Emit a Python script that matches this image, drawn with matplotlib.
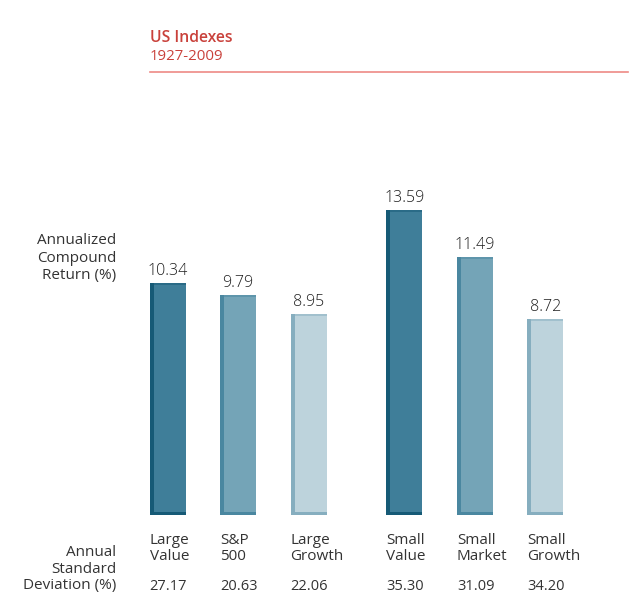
import matplotlib
matplotlib.use('Agg')
import matplotlib.pyplot as plt

# ---- data ----
cat_line1 = ["Large", "S&P", "Large", "Small", "Small", "Small"]
cat_line2 = ["Value", "500", "Growth", "Value", "Market", "Growth"]
returns = [10.34, 9.79, 8.95, 13.59, 11.49, 8.72]
std_devs = ["27.17", "20.63", "22.06", "35.30", "31.09", "34.20"]
title = "US Indexes"
subtitle = "1927-2009"
return_label = ["Annualized", "Compound", "Return (%)"]
std_label = ["Annual", "Standard", "Deviation (%)"]

# ---- style ----
fill_colors = ["#3f7e99", "#74a4b7", "#bdd3dc", "#3f7e99", "#74a4b7", "#bdd3dc"]
edge_colors = ["#165a76", "#4a87a0", "#86aebf", "#165a76", "#4a87a0", "#86aebf"]
positions = [0, 1, 2, 3.36, 4.36, 5.36]
text_color = "#333333"
red = "#c9413b"

plt.rcParams['font.family'] = ['Open Sans', 'DejaVu Sans']

W, H = 640, 613
fig = plt.figure(figsize=(W / 100, H / 100), dpi=100)
fig.patch.set_facecolor('white')

base_px = 515
top_px = 178
ppu_y = 22.43
ppu_x = 70.5
x0_px = 167.5
ax = fig.add_axes([0, (H - base_px) / H, 1, (base_px - top_px) / H])
ax.set_ylim(0, (base_px - top_px) / ppu_y)
ax.set_xlim(-x0_px / ppu_x, (W - x0_px) / ppu_x)
ax.axis('off')

bw = 36 / ppu_x
sw = 4 / ppu_x
bh = 3 / ppu_y
for p, v, fc, ec in zip(positions, returns, fill_colors, edge_colors):
    ax.bar(p, v, width=bw, color=fc, linewidth=0)
    ax.bar(p - bw / 2 + sw / 2, v - bh * 0.5, width=sw, bottom=bh * 0.5, color=ec, linewidth=0)
    ax.bar(p, bh, width=bw, color=ec, linewidth=0)
    ax.bar(p + sw / 2, bh * 0.5, width=bw - sw, bottom=v - bh * 0.5, color=ec, linewidth=0, alpha=0.5)
    ax.annotate(f"{v:.2f}", (p, v), xytext=(0, 3), textcoords='offset points',
                ha='center', va='bottom', fontsize=11.5, fontweight='light', color="#1e1e1e")


def ftext(xp, yp, s, **kw):
    fig.text(xp / W, 1 - yp / H, s, **kw)


# title
ftext(150, 38, title, fontsize=11.3, fontweight='semibold', color=red, va='center', ha='left')
ftext(150, 57, subtitle, fontsize=10.8, color=red, va='center', ha='left')
fig.add_artist(plt.Line2D([150 / W, 628 / W], [1 - 72 / H, 1 - 72 / H], color="#ee8a85", lw=1.2))

# left labels
for i, s in enumerate(return_label):
    ftext(116, 241 + i * 17, s, fontsize=11, color=text_color, ha='right', va='center')
for i, s in enumerate(std_label):
    ftext(116, 553 + i * 16.5, s, fontsize=11, color=text_color, ha='right', va='center')

# category labels and std values
for p, a, b, sd in zip(positions, cat_line1, cat_line2, std_devs):
    xl = x0_px + p * ppu_x - 18
    ftext(xl, 540, a, fontsize=11, color=text_color, ha='left', va='center')
    ftext(xl, 556.5, b, fontsize=11, color=text_color, ha='left', va='center')
    ftext(xl, 586, sd, fontsize=10.5, color=text_color, ha='left', va='center')

fig.savefig('out.png', dpi=100, facecolor='white')
